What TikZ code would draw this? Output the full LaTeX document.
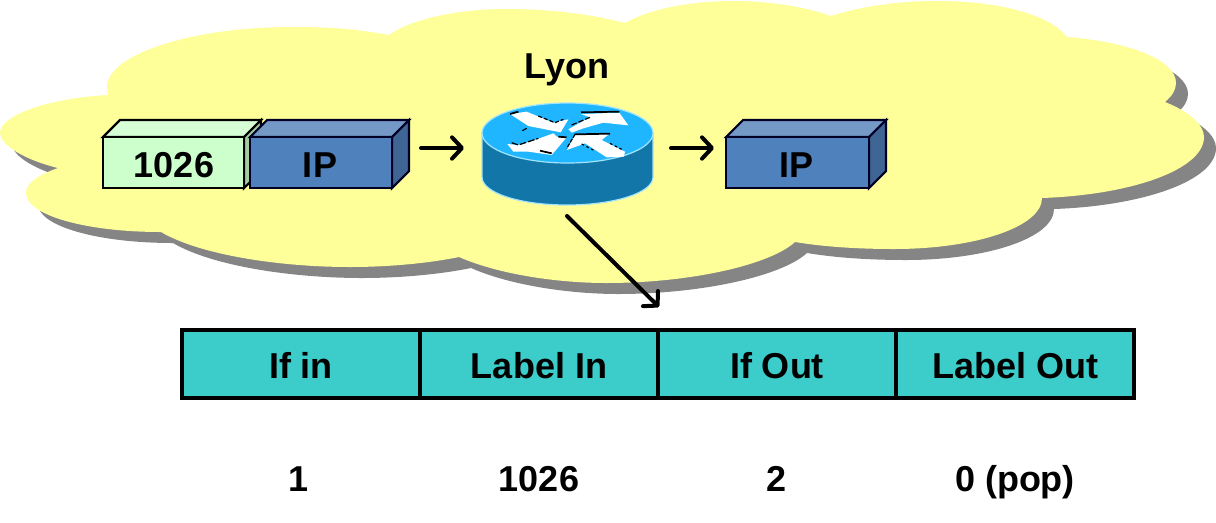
\documentclass[tikz,border=0pt]{standalone}
\usepackage{fontspec}
\setmainfont{Liberation Sans}
\usetikzlibrary{arrows.meta}
\definecolor{cloudc}{HTML}{FFFF99}
\definecolor{shadowc}{HTML}{858585}
\definecolor{greenF}{HTML}{CCFFCC}
\definecolor{greenT}{HTML}{D6FFD6}
\definecolor{greenS}{HTML}{A3CCA3}
\definecolor{blueF}{HTML}{4F81BD}
\definecolor{blueT}{HTML}{7499C7}
\definecolor{blueS}{HTML}{3F6594}
\definecolor{rtop}{HTML}{1FB6FF}
\definecolor{rside}{HTML}{1277A8}
\definecolor{redge}{HTML}{A0E4FF}
\definecolor{tealc}{HTML}{3CCCCA}
\newcommand{\cloudshape}{(389,35)
 .. controls (350,28) and (325,27) .. (292,27)
 .. controls (190,27) and (107,55) .. (107,87)
 -- (108,95)
 .. controls (50,98) and (0,115) .. (0,133)
 .. controls (0,145) and (25,160) .. (58,168)
 .. controls (38,175) and (26,183) .. (26,193)
 .. controls (26,215) and (85,232) .. (161,232)
 .. controls (200,255) and (280,267) .. (350,267)
 .. controls (390,267) and (430,263) .. (459,257)
 .. controls (500,275) and (560,283) .. (606,283)
 .. controls (690,283) and (770,265) .. (795,242)
 .. controls (825,247) and (860,249) .. (894,249)
 .. controls (975,249) and (1042,227) .. (1042,198)
 .. controls (1130,195) and (1204,170) .. (1204,137)
 .. controls (1204,125) and (1190,112) .. (1165,102)
 .. controls (1172,96) and (1176,90) .. (1176,83)
 .. controls (1176,60) and (1130,42) .. (1067,37)
 .. controls (1050,15) and (1000,1) .. (937,1)
 .. controls (895,1) and (860,7) .. (831,16)
 .. controls (805,7) and (770,1) .. (734,1)
 .. controls (690,1) and (650,9) .. (625,23)
 .. controls (590,14) and (550,9) .. (506,9)
 .. controls (455,9) and (410,20) .. (389,35) -- cycle}
% #1 left, #2 right of front face, #3 front colour, #4 top, #5 side, #6 edge colour
\newcommand{\boxthree}[6]{%
 \draw[draw=#6,line width=1.6pt,line join=miter,fill=#4] (#1,137) -- (#1+17,120) -- (#2+17,120) -- (#2,137) -- cycle;
 \draw[draw=#6,line width=1.6pt,line join=miter,fill=#5] (#2,137) -- (#2+17,120) -- (#2+17,171) -- (#2,188) -- cycle;
 \draw[draw=#6,line width=1.6pt,line join=miter,fill=#3] (#1,137) rectangle (#2,188);}
\tikzset{
 x=.75pt,y=-.75pt,
 lbl/.style={font=\fontsize{27}{30}\selectfont\bfseries,text=black,inner sep=0pt,anchor=base},
 cell/.style={draw=black,fill=tealc,line width=3pt,minimum width=178.5pt,minimum height=51pt,inner sep=0pt,text height=21pt,text depth=0pt,font=\fontsize{27}{30}\selectfont\bfseries},
 conn/.style={draw=black,line width=3pt,line cap=round,-{Straight Barb[length=7.5pt,width=16pt,line width=3pt,round]}},
 fine/.style={draw=black,line width=.9pt},
 thick edge/.style={draw=black,line width=1.3pt}
}
\begin{document}
\begin{tikzpicture}
\useasboundingbox (0,0) rectangle (1216,522);
% cloud
\fill[shadowc,shift={(12,11)}] \cloudshape;
\fill[cloudc] \cloudshape;
% packets
\boxthree{103}{244}{greenF}{greenT}{greenS}{black}
\boxthree{250}{392}{blueF}{blueT}{blueS}{black!85!blue}
\boxthree{726}{869}{blueF}{blueT}{blueS}{black!85!blue}
\node[lbl] (n1026) at (174,177) {1026};
\node[lbl] (nipa) at (320,177) {IP};
\node[lbl] (nipb) at (796,177) {IP};
% router
\draw[draw=redge,line width=.9pt,fill=rside] (482,133) -- (482,177) .. controls (482,193) and (520,205) .. (567,205) .. controls (614,205) and (653,193) .. (653,177) -- (653,133) -- cycle;
\draw[draw=redge,line width=.9pt,fill=rtop] (567.5,133) ellipse [x radius=85.5,y radius=30];
\begin{scope}[shift={(500,100)},x=.25pt,y=-.25pt]
 \fill[white] (30,42)--(80,35)--(160,68)--(205,58)--(182,97)--(85,78)--cycle;
 \fill[white] (205,88)--(240,68)--(270,52)--(243,42)--(358,38)--(385,76)--(310,68)--(250,85)--(215,98)--cycle;
 \fill[white] (22,132)--(55,135)--(105,120)--(160,100)--(170,110)--(200,112)--(155,165)--(85,155)--(40,155)--cycle;
 \fill[white] (200,150)--(225,105)--(330,100)--(305,120)--(345,140)--(375,155)--(372,170)--(320,172)--(255,130)--cycle;
 \draw[thick edge] (30,42)--(55,35);
 \draw[fine,dash pattern=on 3pt off 1.5pt] (115,48)--(165,68)--(190,58);
 \draw[fine] (67,92)--(80,85);
 \draw[thick edge] (243,37)--(358,35);
 \draw[fine,dash pattern=on 4pt off 1.5pt] (215,75)--(270,52);
 \draw[fine,dash pattern=on 5pt off 1.5pt] (35,128)--(55,135)--(115,115);
 \draw[thick edge] (175,110)--(200,112);
 \draw[thick edge] (120,152)--(155,160);
 \draw[thick edge] (225,103)--(330,101);
 \draw[fine,dash pattern=on 3pt off 1pt] (225,103)--(200,145);
 \draw[fine,dash pattern=on 2pt off 2pt] (245,132)--(280,150);
 \draw[fine,dash pattern=on 2pt off 2pt] (330,130)--(365,148);
\end{scope}
\node[lbl] (lyon) at (567,78) {Lyon};
% table
\node[cell] (c1) at (301,364) {If in};
\node[cell] (c2) at (539,364) {Label In};
\node[cell] (c3) at (777,364) {If Out};
\node[cell] (c4) at (1015,364) {Label Out};
\node[lbl] (v1) at (299,491) {1};
\node[lbl] (v2) at (539,491) {1026};
\node[lbl] (v3) at (776,491) {2};
\node[lbl] (v4) at (1015,491) {0 (pop)};
% connectors
\coordinate (a1s) at (421,148); \coordinate (a1e) at (464,148);
\coordinate (a2s) at (671,148); \coordinate (a2e) at (714,148);
\coordinate (a3s) at (567,216); \coordinate (a3e) at (659,307);
\draw[conn] (a1s) -- (a1e);
\draw[conn] (a2s) -- (a2e);
\draw[conn] (a3s) -- (a3e);
\end{tikzpicture}
\end{document}
